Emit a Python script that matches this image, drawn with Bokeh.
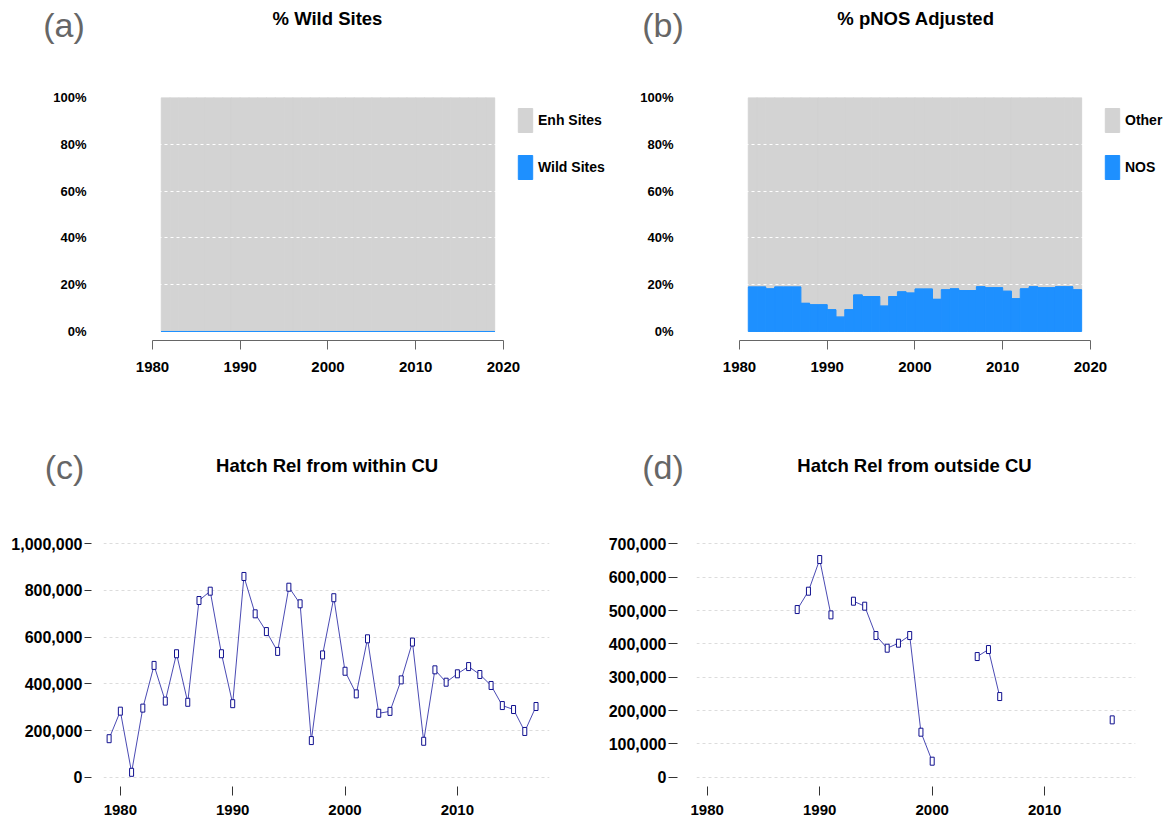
import numpy as np
from bokeh.plotting import figure
from bokeh.layouts import column, row
from bokeh.models import (ColumnDataSource, FixedTicker, Label, Legend, LegendItem,
                          NumeralTickFormatter, PrintfTickFormatter, Range1d)
from bokeh.embed import file_html
from bokeh.resources import INLINE

# ---------------- data ----------------
years_ab = list(range(1981, 2019))
wild_pct = [0, 0, 0, 0, 0, 0, 0, 0, 0, 0, 0, 0, 0, 0, 0, 0, 0, 0, 0,
            0, 0, 0, 0, 0, 0, 0, 0, 0, 0, 0, 0, 0, 0, 0, 0, 0, 0, 0]
enh_pct = [100, 100, 100, 100, 100, 100, 100, 100, 100, 100, 100, 100, 100,
           100, 100, 100, 100, 100, 100, 100, 100, 100, 100, 100, 100, 100,
           100, 100, 100, 100, 100, 100, 100, 100, 100, 100, 100, 100]
nos_pct = [19.0, 19.0, 18.2, 19.0, 19.0, 19.0, 12.0, 11.4, 11.4, 9.3,
           6.1, 9.3, 15.6, 14.9, 14.9, 10.8, 14.9, 16.9, 16.4, 18.1,
           18.1, 13.7, 17.8, 18.2, 17.5, 17.5, 19.1, 18.7, 18.7, 17.2,
           14.0, 18.2, 19.1, 18.7, 18.7, 19.1, 19.1, 17.8]

years_c = list(range(1979, 2018))
within_cu = [165000, 283000, 21000, 296000, 479000, 326000, 529000, 321000,
             757000, 797000, 529000, 315000, 860000, 700000, 624000, 539000,
             814000, 743000, 157000, 524000, 769000, 454000, 357000, 593000,
             274000, 282000, 417000, 579000, 154000, 460000, 407000, 443000,
             474000, 440000, 393000, 307000, 290000, 196000, 303000]

nan = float("nan")
years_d = list(range(1988, 2017))
outside_cu = [503000, 558000, 653000, 487000, nan, 528000, 513000, 425000,
              387000, 402000, 425000, 135000, 48000, nan, nan, nan,
              362000, 383000, 242000, nan, nan, nan, nan, nan, nan, nan,
              nan, nan, 172000]

x_ticks_ab = [1980, 1990, 2000, 2010, 2020]
pct_ticks = [0, 20, 40, 60, 80, 100]
pct_grid = [20, 40, 60, 80]
x_ticks_cd = [1980, 1990, 2000, 2010]
y_ticks_c = [0, 200000, 400000, 600000, 800000, 1000000]
y_ticks_d = [0, 100000, 200000, 300000, 400000, 500000, 600000, 700000]

titles = ["% Wild Sites", "% pNOS Adjusted",
          "Hatch Rel from within CU", "Hatch Rel from outside CU"]
tags = ["(a)", "(b)", "(c)", "(d)"]

GRAY = "#d3d3d3"
BLUE = "#1e90ff"
FONT = "Liberation Sans"
TOTAL_W = 1168


def make_fig(w, h, left, right, top, bottom, xr, yr):
    p = figure(width=w, height=h, x_range=Range1d(*xr), y_range=Range1d(*yr),
               output_backend="svg", toolbar_location=None,
               min_border_left=left, min_border_right=right,
               min_border_top=top, min_border_bottom=bottom)
    p.outline_line_color = None
    p.background_fill_color = "white"
    p.border_fill_color = "white"
    p.xgrid.visible = False
    return p


def header(h, y0, items):
    # a strip whose data coordinates are page pixels, for titles and panel tags
    p = figure(width=TOTAL_W, height=h, x_range=Range1d(0, TOTAL_W),
               y_range=Range1d(y0 + h, y0), x_axis_type=None, y_axis_type=None,
               output_backend="svg", toolbar_location=None, min_border=0)
    p.outline_line_color = None
    p.grid.visible = False
    for (x, y, text, size, style, color) in items:
        p.add_layout(Label(x=x, y=y, text=text, text_align="center",
                           text_baseline="middle", text_font=FONT,
                           text_font_size=size, text_font_style=style,
                           text_color=color))
    return p


def stack_panel(w, left, right, x_end, bottom_vals, top_vals, labels):
    p = make_fig(w, 363, left, right, 47, 73, (1980, x_end), (-3.85, 100))
    src = ColumnDataSource(dict(
        left=years_ab,
        right=[y + 1 for y in years_ab],
        b=bottom_vals,
        t=[a + b for a, b in zip(bottom_vals, top_vals)],
        zero=[0] * len(years_ab)))
    r_gray = p.quad(left="left", right="right", bottom="b", top="t", source=src,
                    fill_color=GRAY, line_color=GRAY, line_width=1)
    r_blue = p.quad(left="left", right="right", bottom="zero", top="b", source=src,
                    fill_color=BLUE, line_color=BLUE, line_width=1)
    # top edge of the blue series (visible even where the series is zero)
    p.segment(x0="left", y0="b", x1="right", y1="b", source=src,
              line_color=BLUE, line_width=1.2)
    xa = p.xaxis[0]
    xa.ticker = FixedTicker(ticks=x_ticks_ab)
    xa.bounds = (1980, 2020)
    xa.axis_line_color = "#666666"
    xa.major_tick_line_color = "#666666"
    xa.major_tick_out = 9
    xa.major_tick_in = 0
    xa.minor_tick_line_color = None
    xa.major_label_standoff = 12
    xa.major_label_text_font = FONT
    xa.major_label_text_font_size = "15px"
    xa.major_label_text_font_style = "bold"
    xa.major_label_text_color = "black"
    ya = p.yaxis[0]
    ya.ticker = FixedTicker(ticks=pct_ticks)
    ya.formatter = PrintfTickFormatter(format="%d%%")
    ya.axis_line_color = None
    ya.major_tick_line_color = None
    ya.minor_tick_line_color = None
    ya.major_tick_out = 0
    ya.major_tick_in = 0
    ya.major_label_standoff = 66
    ya.major_label_text_font = FONT
    ya.major_label_text_font_size = "13px"
    ya.major_label_text_font_style = "bold"
    ya.major_label_text_color = "black"
    g = p.ygrid[0]
    g.ticker = FixedTicker(ticks=pct_grid)
    g.grid_line_color = "white"
    g.grid_line_dash = "3 3"
    g.grid_line_width = 1
    g.level = "overlay"
    leg = Legend(items=[LegendItem(label=labels[0], renderers=[r_gray]),
                        LegendItem(label=labels[1], renderers=[r_blue])],
                 location=(364, 157.7), padding=0, margin=0,
                 border_line_color=None, background_fill_alpha=0,
                 glyph_width=18, glyph_height=30, spacing=17, label_standoff=4,
                 label_text_font=FONT, label_text_font_size="14px",
                 label_text_font_style="bold", label_text_color="black")
    p.add_layout(leg)
    return p


def line_panel(w, left, right, xr, yr, years, vals, yticks, tin, tout):
    p = make_fig(w, 327, left, right, 30, 41, xr, yr)
    src = ColumnDataSource(dict(x=years, y=np.array(vals, dtype=float)))
    p.line(x="x", y="y", source=src, line_color="#2a2aa6", line_width=1,
           line_alpha=0.85)
    p.rect(x="x", y="y", width=4, height=8, width_units="screen",
           height_units="screen", source=src, fill_color="white",
           line_color="#10108f", line_width=1)
    xa = p.xaxis[0]
    xa.ticker = FixedTicker(ticks=x_ticks_cd)
    xa.axis_line_color = None
    xa.major_tick_line_color = "#333333"
    xa.major_tick_out = 9
    xa.major_tick_in = 0
    xa.minor_tick_line_color = None
    xa.major_label_standoff = 9
    xa.major_label_text_font = FONT
    xa.major_label_text_font_size = "15px"
    xa.major_label_text_font_style = "bold"
    xa.major_label_text_color = "black"
    ya = p.yaxis[0]
    ya.ticker = FixedTicker(ticks=yticks)
    ya.formatter = NumeralTickFormatter(format="0,0")
    ya.axis_line_color = None
    ya.major_tick_line_color = "#333333"
    ya.minor_tick_line_color = None
    ya.major_tick_out = tout
    ya.major_tick_in = tin
    ya.major_label_standoff = 2
    ya.major_label_text_font = FONT
    ya.major_label_text_font_size = "16px"
    ya.major_label_text_font_style = "bold"
    ya.major_label_text_color = "black"
    g = p.ygrid[0]
    g.ticker = FixedTicker(ticks=yticks)
    g.grid_line_color = "#dcdcdc"
    g.grid_line_dash = "3 3"
    g.grid_line_width = 1
    return p


TAG_GRAY = "#666666"
head1 = header(50, 0, [
    (63.5, 24, tags[0], "34px", "normal", TAG_GRAY),
    (327, 18.3, titles[0], "18.5px", "bold", "black"),
    (662.5, 24, tags[1], "34px", "normal", TAG_GRAY),
    (915.5, 18.3, titles[1], "18.5px", "bold", "black"),
])
pa = stack_panel(608, 152, 0, 2031.97, wild_pct, enh_pct,
                 ["Enh Sites", "Wild Sites"])
pb = stack_panel(TOTAL_W - 608, 131, 0, 2028.9, nos_pct,
                 [100 - v for v in nos_pct], ["Other", "NOS"])
head2 = header(87, 413, [
    (64, 466, tags[2], "34px", "normal", TAG_GRAY),
    (326.6, 465, titles[2], "18.5px", "bold", "black"),
    (662.5, 466, tags[3], "34px", "normal", TAG_GRAY),
    (914, 465, titles[3], "18.5px", "bold", "black"),
])
pc = line_panel(598, 103, 49, (1978.5, 2018.2), (-39800, 1057000), years_c,
                within_cu, y_ticks_c, -12, 19)
pd_ = line_panel(TOTAL_W - 598, 98, TOTAL_W - 598 - 98 - 439,
                 (1979.05, 2018.07), (-27900, 740100), years_d,
                 outside_cu, y_ticks_d, -19, 28)

layout = column(head1, row(pa, pb), head2, row(pc, pd_))
open("out.html", "w").write(file_html(layout, INLINE))
